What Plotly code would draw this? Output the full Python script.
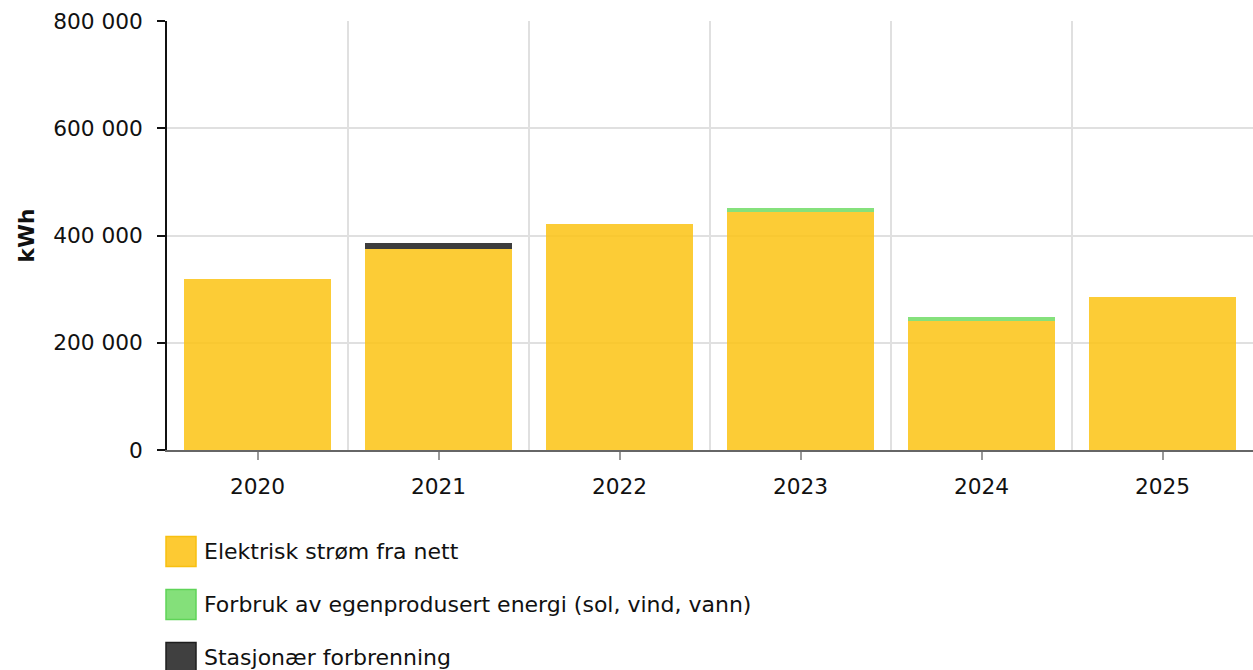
import plotly.graph_objects as go

years = ["2020", "2021", "2022", "2023", "2024", "2025"]
series_names = ["Elektrisk strøm fra nett",
                "Forbruk av egenprodusert energi (sol, vind, vann)",
                "Stasjonær forbrenning"]
grid_power = [319000, 375000, 421000, 444000, 240000, 285000]
own_energy = [0, 0, 0, 7500, 7500, 0]
stationary = [0, 11000, 0, 0, 0, 0]
series_values = [grid_power, own_energy, stationary]
colors = ["rgba(252,196,24,0.87)", "rgba(120,222,110,0.9)", "rgba(40,40,40,0.9)"]
swatch_fill = ["#fdca33", "#84e07a", "#404040"]
swatch_line = ["#f8c010", "#5fd458", "#1e1e1e"]
y_ticks = [0, 200000, 400000, 600000, 800000]

FONT = "DejaVu Sans"
FS = 21.7
FS_LEG = 22

x_pos = list(range(len(years)))
fig = go.Figure()
for name, vals, col in zip(series_names, series_values, colors):
    fig.add_trace(go.Bar(x=x_pos, y=vals, name=name, marker=dict(color=col, line=dict(width=0)),
                         showlegend=False))

W, H = 1253, 670
L, R, T, B = 167, 0, 21, 220
pw, ph = W - L - R, H - T - B

def px_to_paper(x, y):
    return (x - L) / pw, (H - B - y) / ph

shapes = []
annotations = []
legend_y = [551.5, 604.5, 657.5]
for i, name in enumerate(series_names):
    x0, y0 = px_to_paper(166, legend_y[i] - 15)
    x1, y1 = px_to_paper(196, legend_y[i] + 15)
    shapes.append(dict(type="rect", xref="paper", yref="paper", x0=x0, x1=x1, y0=y0, y1=y1,
                       fillcolor=swatch_fill[i], line=dict(color=swatch_line[i], width=1.5)))
    ax, ay = px_to_paper(202, legend_y[i])
    annotations.append(dict(xref="paper", yref="paper", x=ax, y=ay, text=name, showarrow=False,
                            xanchor="left", yanchor="middle",
                            font=dict(family=FONT, size=FS_LEG, color="#111")))

fig.update_layout(
    width=W, height=H,
    margin=dict(l=L, r=R, t=T, b=B, pad=0),
    barmode="stack",
    bargap=0.19,
    plot_bgcolor="white", paper_bgcolor="white",
    separators=", ",
    font=dict(family=FONT, size=FS, color="#111"),
    shapes=shapes,
    annotations=annotations,
    xaxis=dict(
        range=[-0.5, len(years) - 0.5],
        tickmode="array", tickvals=x_pos, ticktext=years,
        showgrid=False, zeroline=False,
        showline=True, linecolor="#666", linewidth=1.5,
        ticks="outside", ticklen=8, tickcolor="#999", tickwidth=1.5,
        ticklabelstandoff=8,
        minor=dict(tickmode="array", tickvals=[p + 0.5 for p in x_pos], showgrid=True,
                   gridcolor="#e0e0e0", gridwidth=1.5, ticks=""),
        tickfont=dict(family=FONT, size=FS, color="#111"),
    ),
    yaxis=dict(
        range=[0, 800000],
        tickmode="array", tickvals=y_ticks, tickformat=",d",
        showgrid=True, gridcolor="#e0e0e0", gridwidth=1.5,
        zeroline=False,
        showline=True, linecolor="#111", linewidth=1.5,
        ticks="outside", ticklen=8, tickcolor="#111", tickwidth=1.5,
        ticklabelstandoff=10,
        tickfont=dict(family=FONT, size=FS, color="#111"),
        title=dict(text="<b>kWh</b>", font=dict(family=FONT, size=FS, color="#111"), standoff=13),
    ),
)

fig.write_html("out.html", config={"displayModeBar": False},
               post_script="document.body.style.margin='0px';document.body.style.overflow='hidden';")
